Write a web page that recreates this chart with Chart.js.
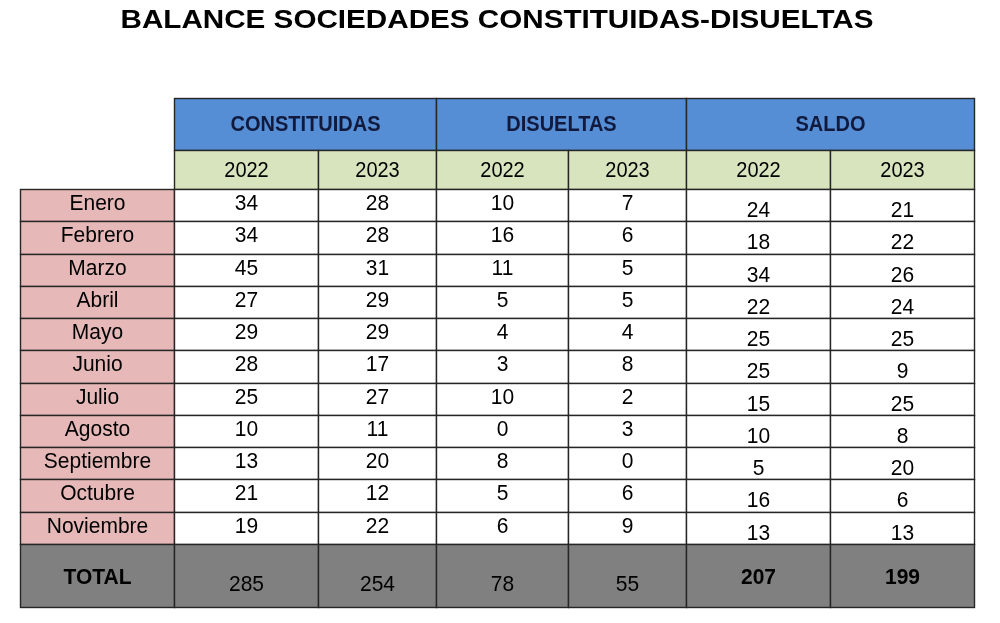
<!DOCTYPE html>
<html>
<head>
<meta charset="utf-8">
<script src="https://cdn.jsdelivr.net/npm/chart.js@4.4.0/dist/chart.umd.min.js"></script>
<style>
  html, body { margin: 0; padding: 0; background: #fff; }
  #wrap { width: 1000px; height: 623px; }
</style>
</head>
<body>
<div id="wrap"><canvas id="myChart"></canvas></div>
<script>
const titleText = 'BALANCE SOCIEDADES CONSTITUIDAS-DISUELTAS';
const months = ['Enero', 'Febrero', 'Marzo', 'Abril', 'Mayo', 'Junio', 'Julio',
                'Agosto', 'Septiembre', 'Octubre', 'Noviembre'];
const groups = ['CONSTITUIDAS', 'DISUELTAS', 'SALDO'];
const years = ['2022', '2023'];
const constituidas2022 = [34, 34, 45, 27, 29, 28, 25, 10, 13, 21, 19];
const constituidas2023 = [28, 28, 31, 29, 29, 17, 27, 11, 20, 12, 22];
const disueltas2022 = [10, 16, 11, 5, 4, 3, 10, 0, 8, 5, 6];
const disueltas2023 = [7, 6, 5, 5, 4, 8, 2, 3, 0, 6, 9];
const saldo2022 = [24, 18, 34, 22, 25, 25, 15, 10, 5, 16, 13];
const saldo2023 = [21, 22, 26, 24, 25, 9, 25, 8, 20, 6, 13];
const totalLabel = 'TOTAL';
const totals = [285, 254, 78, 55, 207, 199];

const series = [constituidas2022, constituidas2023, disueltas2022, disueltas2023, saldo2022, saldo2023];

// table grid (in scale units)
const grid = {
    titleY: 21, titleWidth: 753,
    cols: [20, 174, 318, 436, 568, 686, 830, 974],
    headTop: 98, headMid: 150, bodyTop: 189, bodyBottom: 544, bottom: 607,
    bodyDy: [-2, -2, -2, -2, -2, 5, 5],
    totalDy: [2, 9, 9, 9, 9, 2, 2],
    totalBold: [true, false, false, false, false, true, true]
};

const FONT = "'Liberation Sans', Arial, sans-serif";

const tablePlugin = {
    id: 'tablePlugin',
    afterDraw(chart) {
        const ctx = chart.ctx;
        const x = chart.scales.x, y = chart.scales.y;
        const px = v => Math.round(x.getPixelForValue(v)) + 0.5;
        const py = v => Math.round(y.getPixelForValue(v)) + 0.5;
        const cols = grid.cols;
        const rows = [];
        for (let i = 0; i <= months.length; i++) {
            rows.push(grid.bodyTop + i * (grid.bodyBottom - grid.bodyTop) / months.length);
        }

        function cell(c0, c1, r0, r1, fill) {
            const x0 = px(c0), x1 = px(c1), y0 = py(r0), y1 = py(r1);
            ctx.fillStyle = fill;
            ctx.fillRect(x0, y0, x1 - x0, y1 - y0);
            ctx.strokeStyle = '#262626';
            ctx.lineWidth = 1.4;
            ctx.strokeRect(x0, y0, x1 - x0, y1 - y0);
        }
        // text is a little taller than plain Arial in the original
        function text(str, c0, c1, r0, r1, font, color, dy) {
            ctx.save();
            ctx.font = font;
            ctx.fillStyle = color;
            ctx.textAlign = 'center';
            ctx.textBaseline = 'middle';
            ctx.translate((px(c0) + px(c1)) / 2, (py(r0) + py(r1)) / 2 + (dy || 0));
            ctx.scale(1, 1.08);
            ctx.fillText(str, 0, 0);
            ctx.restore();
        }

        ctx.save();
        // title, a bit wide like the original
        ctx.font = 'bold 26px ' + FONT;
        const sx = grid.titleWidth / ctx.measureText(titleText).width;
        ctx.translate(x.getPixelForValue(497), y.getPixelForValue(grid.titleY));
        ctx.scale(sx, 1);
        ctx.fillStyle = '#000';
        ctx.textAlign = 'center';
        ctx.textBaseline = 'middle';
        ctx.fillText(titleText, 0, 0);
        ctx.restore();

        ctx.save();
        // group header
        groups.forEach((g, i) => {
            const c0 = cols[1 + i * 2], c1 = cols[3 + i * 2];
            cell(c0, c1, grid.headTop, grid.headMid, '#558ed5');
            text(g, c0, c1, grid.headTop, grid.headMid, 'bold 20px ' + FONT, '#111a3d', 1);
        });
        // years
        for (let j = 0; j < series.length; j++) {
            cell(cols[j + 1], cols[j + 2], grid.headMid, grid.bodyTop, '#d7e4bd');
            text(years[j % 2], cols[j + 1], cols[j + 2], grid.headMid, grid.bodyTop, '20px ' + FONT, '#000', 1);
        }
        // body
        months.forEach((m, i) => {
            cell(cols[0], cols[1], rows[i], rows[i + 1], '#e6b9b8');
            text(m, cols[0], cols[1], rows[i], rows[i + 1], '21px ' + FONT, '#000', grid.bodyDy[0]);
            series.forEach((s, j) => {
                cell(cols[j + 1], cols[j + 2], rows[i], rows[i + 1], '#ffffff');
                text(String(s[i]), cols[j + 1], cols[j + 2], rows[i], rows[i + 1], '21px ' + FONT, '#000', grid.bodyDy[j + 1]);
            });
        });
        // totals
        cell(cols[0], cols[1], grid.bodyBottom, grid.bottom, '#808080');
        text(totalLabel, cols[0], cols[1], grid.bodyBottom, grid.bottom, 'bold 21px ' + FONT, '#000', grid.totalDy[0]);
        totals.forEach((t, j) => {
            cell(cols[j + 1], cols[j + 2], grid.bodyBottom, grid.bottom, '#808080');
            text(String(t), cols[j + 1], cols[j + 2], grid.bodyBottom, grid.bottom,
                (grid.totalBold[j + 1] ? 'bold ' : '') + '21px ' + FONT, '#000', grid.totalDy[j + 1]);
        });
        ctx.restore();
    }
};

const ctx = document.getElementById('myChart').getContext('2d');
const myChart = new Chart(ctx, {
    type: 'scatter',
    data: { datasets: [] },
    options: {
        responsive: true,
        maintainAspectRatio: false,
        animation: false,
        layout: { padding: 0 },
        plugins: {
            legend: { display: false },
            tooltip: { enabled: false },
            title: { display: false }
        },
        scales: {
            x: { type: 'linear', min: 0, max: 1000, display: false },
            y: { type: 'linear', min: 0, max: 623, reverse: true, display: false }
        }
    },
    plugins: [tablePlugin]
});
</script>
</body>
</html>
